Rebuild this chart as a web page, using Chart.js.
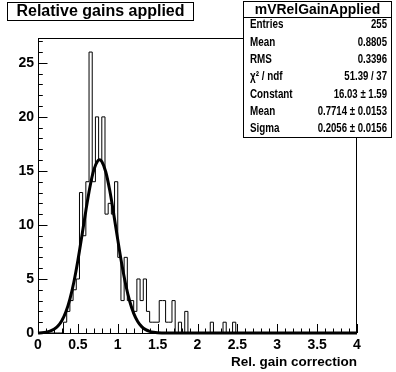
<!DOCTYPE html>
<html>
<head>
<meta charset="utf-8">
<title>Relative gains applied</title>
<script src="https://cdn.jsdelivr.net/npm/chart.js@4.4.0/dist/chart.umd.min.js"></script>
<style>
    html, body { margin: 0; padding: 0; background: #fff; }
    #wrap { position: relative; width: 396px; height: 372px; }
</style>
</head>
<body>
<div id="wrap"><canvas id="gainChart" width="396" height="372"></canvas></div>
<script>
// Histogram definition and contents
const histTitle = 'Relative gains applied';
const xAxisTitle = 'Rel. gain correction';
const xMin = 0;
const xMax = 4;
const nBins = 100;
const binCounts = [
    0, 0, 0, 0, 0, 0, 0, 0, 1, 2,
    3, 4, 5, 13, 9, 14, 26, 14, 20, 16,
    20, 11, 12, 11, 14, 7, 3, 7, 3, 3,
    2, 5, 3, 5, 2, 1, 1, 1, 3, 3,
    1, 1, 3, 0, 1, 0, 2, 0, 0, 0,
    0, 0, 0, 0, 1, 0, 0, 0, 1, 0,
    0, 1, 0, 0, 0, 0, 0, 0, 0, 0,
    0, 0, 0, 0, 0, 0, 0, 0, 0, 0,
    0, 0, 0, 0, 0, 0, 0, 0, 0, 0,
    0, 0, 0, 0, 0, 0, 0, 0, 0, 0
];

// Gaussian fit curve
const fitX = [0, 0.05, 0.1, 0.15, 0.2, 0.25, 0.3, 0.35, 0.4, 0.45, 0.5, 0.55, 0.6, 0.65, 0.7, 0.75, 0.77,
    0.8, 0.85, 0.9, 0.95, 1.0, 1.05, 1.1, 1.15, 1.2, 1.25, 1.3, 1.35, 1.4, 1.45, 1.5, 1.6, 2, 3, 4];
const fitY = [0, 0.03, 0.08, 0.17, 0.34, 0.64, 1.16, 1.96, 3.14, 4.72, 6.71, 8.98, 11.32, 13.47, 15.09, 15.94, 16.03,
    15.87, 14.90, 13.18, 10.99, 8.64, 6.40, 4.47, 2.94, 1.82, 1.07, 0.59, 0.31, 0.15, 0.07, 0.03, 0, 0, 0, 0];

// Axis ticks
const xTickValues = [0, 0.5, 1, 1.5, 2, 2.5, 3, 3.5, 4];
const xTickLabels = ['0', '0.5', '1', '1.5', '2', '2.5', '3', '3.5', '4'];
const yTickValues = [0, 5, 10, 15, 20, 25];
const xMinorStep = 0.1;
const yMinorStep = 1;
const yMaxValue = 27.3;

// Stats box
const statsName = 'mVRelGainApplied';
const statsLabels = ['Entries', 'Mean', 'RMS', 'χ² / ndf', 'Constant', 'Mean', 'Sigma'];
const statsValues = ['255', '0.8805', '0.3396', '51.39 / 37', '16.03 ± 1.59', '0.7714 ± 0.0153', '0.2056 ± 0.0156'];

const FONT = "'Liberation Sans', Arial, Helvetica, sans-serif";

function buildHistPoints() {
    const width = (xMax - xMin) / nBins;
    const pts = [{ x: xMin, y: 0 }];
    binCounts.forEach((c, i) => pts.push({ x: xMin + i * width, y: c }));
    pts.push({ x: xMax, y: 0 });
    return pts;
}

// ROOT text looks a bit condensed, squeeze it horizontally
function squeezedText(ctx, text, x, y, align, squeeze) {
    ctx.save();
    ctx.translate(x, y);
    ctx.scale(squeeze, 1);
    ctx.textAlign = align;
    ctx.fillText(text, 0, 0);
    ctx.restore();
}

// frame, inward ticks, title box and stats box, ROOT style
const rootDecor = {
    id: 'rootDecor',
    afterDraw(chart) {
        const ctx = chart.ctx;
        const a = chart.chartArea;
        const xs = chart.scales.x;
        const ys = chart.scales.y;
        ctx.save();
        ctx.strokeStyle = '#000';
        ctx.lineWidth = 1;

        // frame
        ctx.strokeRect(a.left + 0.5, a.top + 0.5, a.right - a.left - 1, a.bottom - a.top);

        // ticks pointing into the frame
        ctx.beginPath();
        const nx = Math.round((xMax - xMin) / xMinorStep);
        for (let k = 0; k <= nx; k++) {
            const px = Math.round(xs.getPixelForValue(xMin + k * xMinorStep)) + 0.5;
            const len = (k % 5 === 0) ? 9 : 4.5;
            ctx.moveTo(px, a.bottom);
            ctx.lineTo(px, a.bottom - len);
        }
        for (let v = 0; v <= Math.floor(yMaxValue); v += yMinorStep) {
            const py = Math.round(ys.getPixelForValue(v)) + 0.5;
            const len = (v % 5 === 0) ? 9.5 : 4.8;
            ctx.moveTo(a.left, py);
            ctx.lineTo(a.left + len, py);
        }
        ctx.stroke();

        // x axis title
        ctx.fillStyle = '#000';
        ctx.font = 'bold 13.5px ' + FONT;
        ctx.textAlign = 'right';
        ctx.textBaseline = 'middle';
        ctx.fillText(xAxisTitle, a.right, 362);

        // title box
        ctx.fillStyle = '#fff';
        ctx.fillRect(7, 2, 187, 19);
        ctx.strokeRect(7.5, 2.5, 186, 18);
        ctx.fillStyle = '#000';
        ctx.font = 'bold 16px ' + FONT;
        ctx.textAlign = 'center';
        ctx.fillText(histTitle, 100.5, 12);

        // stats box
        const sx = 243, sy = 1, sw = 149, sh = 136;
        ctx.fillStyle = '#fff';
        ctx.fillRect(sx, sy, sw, sh);
        ctx.strokeRect(sx + 0.5, sy + 0.5, sw - 1, sh);
        ctx.beginPath();
        ctx.moveTo(sx, 17.5);
        ctx.lineTo(sx + sw, 17.5);
        ctx.stroke();
        ctx.fillStyle = '#000';
        ctx.font = 'bold 14.5px ' + FONT;
        squeezedText(ctx, statsName, sx + sw / 2, 10, 'center', 0.96);
        ctx.font = 'bold 12px ' + FONT;
        statsLabels.forEach((lab, i) => {
            const ty = 25 + i * 17.3;
            squeezedText(ctx, lab, 250, ty, 'left', 0.82);
            squeezedText(ctx, statsValues[i], 387, ty, 'right', 0.8);
        });
        ctx.restore();
    }
};

function drawChart() {
    const ctx = document.getElementById('gainChart').getContext('2d');
    new Chart(ctx, {
        type: 'line',
        data: {
            datasets: [
                {
                    label: 'hist',
                    data: buildHistPoints(),
                    stepped: 'before',
                    borderColor: '#000',
                    borderWidth: 1,
                    pointRadius: 0,
                    fill: false,
                    clip: 2
                },
                {
                    label: 'gaus',
                    data: fitX.map((x, i) => ({ x: x, y: fitY[i] })),
                    borderColor: '#000',
                    borderWidth: 3,
                    pointRadius: 0,
                    cubicInterpolationMode: 'monotone',
                    fill: false,
                    clip: 3
                }
            ]
        },
        options: {
            responsive: false,
            animation: false,
            devicePixelRatio: 1,
            layout: { padding: { top: 38, right: 39, left: 0, bottom: 0 } },
            plugins: {
                legend: { display: false },
                tooltip: { enabled: false },
                title: { display: false }
            },
            scales: {
                x: {
                    type: 'linear',
                    min: xMin,
                    max: xMax,
                    afterFit: function(scale) { scale.height = 39; },
                    afterBuildTicks: function(scale) {
                        scale.ticks = xTickValues.map(v => ({ value: v }));
                    },
                    grid: { display: false, drawTicks: false },
                    border: { display: false },
                    ticks: {
                        autoSkip: false,
                        maxRotation: 0,
                        padding: 4,
                        color: '#000',
                        font: { family: FONT, size: 14, weight: 'bold' },
                        callback: function(value, index) { return xTickLabels[index]; }
                    }
                },
                y: {
                    type: 'linear',
                    min: 0,
                    max: yMaxValue,
                    afterFit: function(scale) { scale.width = 38; },
                    afterBuildTicks: function(scale) {
                        scale.ticks = yTickValues.map(v => ({ value: v }));
                    },
                    grid: { display: false, drawTicks: false },
                    border: { display: false },
                    ticks: {
                        padding: 4,
                        color: '#000',
                        font: { family: FONT, size: 14, weight: 'bold' }
                    }
                }
            }
        },
        plugins: [rootDecor]
    });
}

drawChart();
</script>
</body>
</html>
